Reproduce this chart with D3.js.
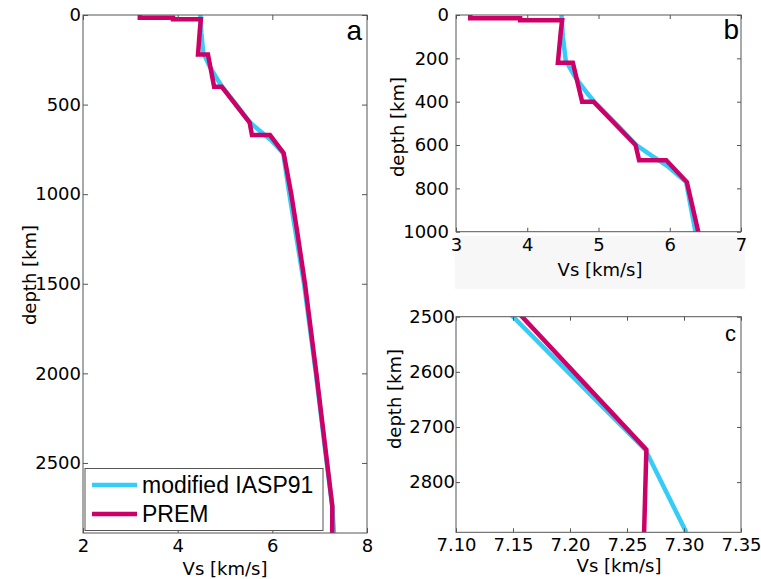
<!DOCTYPE html>
<html>
<head>
<meta charset="utf-8">
<script src="https://cdn.jsdelivr.net/npm/d3@7"></script>
<style>
  body { margin: 0; background: #fff; }
  svg { display: block; }
  .tick text { font-family: "DejaVu Sans", sans-serif; font-size: 18px; fill: #000; }
  .tick line { stroke: #555; }
  .axis-title { font-family: "DejaVu Sans", sans-serif; font-size: 18px; fill: #000; }
  .panel-letter { font-family: "Liberation Sans", Arial, sans-serif; fill: #000; }
  .legend-text { font-family: "Liberation Sans", Arial, sans-serif; font-size: 23px; fill: #000; }
</style>
</head>
<body>
<div id="chart"></div>
<script>
// PREM shear velocity profile (depth in km, Vs in km/s)
const premDepth = [0, 15, 15, 24.4, 24.4, 80, 220, 220, 400, 400, 600, 670, 670, 771, 871, 1000, 1200, 1500, 2000, 2500, 2741, 2891];
const premVs    = [3.20, 3.20, 3.90, 3.90, 4.49, 4.47, 4.43, 4.64, 4.77, 4.93, 5.52, 5.57, 5.95, 6.24, 6.31, 6.40, 6.52, 6.69, 6.93, 7.158, 7.267, 7.265];

// modified IASP91 shear velocity profile
const iaspDepth = [0, 100, 210, 285, 360, 400, 500, 600, 650, 700, 771, 1000, 1500, 2000, 2500, 2741, 2891];
const iaspVs    = [4.48, 4.50, 4.54, 4.67, 4.84, 4.94, 5.24, 5.53, 5.75, 5.98, 6.23, 6.36, 6.67, 6.92, 7.15, 7.266, 7.302];

const seriesNames = ['modified IASP91', 'PREM'];

const xTicksA = [2, 4, 6, 8];
const yTicksA = [0, 500, 1000, 1500, 2000, 2500];
const xTicksB = [3, 4, 5, 6, 7];
const yTicksB = [0, 200, 400, 600, 800, 1000];
const xTicksC = [7.10, 7.15, 7.20, 7.25, 7.30, 7.35];
const yTicksC = [2500, 2600, 2700, 2800];

const prem = premDepth.map((d, i) => ({depth: d, vs: premVs[i]}));
const iasp = iaspDepth.map((d, i) => ({depth: d, vs: iaspVs[i]}));

const colors = {iasp: '#35cdf7', prem: '#cc0066'};

const svg = d3.select('#chart').append('svg')
    .attr('width', 761)
    .attr('height', 579);

// faint background strip under panel b's x axis
svg.append('rect')
    .attr('x', 455).attr('y', 236).attr('width', 290).attr('height', 53)
    .attr('fill', '#f7f7f7');

function drawPanel(cfg) {
    const w = cfg.right - cfg.left;
    const h = cfg.bottom - cfg.top;
    const g = svg.append('g').attr('transform', `translate(${cfg.left},${cfg.top})`);

    const x = d3.scaleLinear().domain(cfg.xDomain).range([0, w]);
    const y = d3.scaleLinear().domain(cfg.yDomain).range([0, h]);

    const clipId = 'clip-' + cfg.name;
    g.append('clipPath').attr('id', clipId)
        .append('rect').attr('width', w).attr('height', h);

    const line = d3.line().x(d => x(d.vs)).y(d => y(d.depth));
    const lines = g.append('g').attr('clip-path', `url(#${clipId})`);
    lines.append('path').datum(iasp)
        .attr('d', line).attr('fill', 'none')
        .attr('stroke', colors.iasp).attr('stroke-width', 4.5);
    lines.append('path').datum(prem)
        .attr('d', line).attr('fill', 'none')
        .attr('stroke', colors.prem).attr('stroke-width', 4.5);

    const tl = cfg.tickLen;
    const xAxis = d3.axisBottom(x).tickValues(cfg.xTicks).tickFormat(cfg.xFormat)
        .tickSizeInner(-tl).tickSizeOuter(0).tickPadding(cfg.xPad);
    const yAxis = d3.axisLeft(y).tickValues(cfg.yTicks).tickFormat(d3.format('d'))
        .tickSizeInner(-tl).tickSizeOuter(0).tickPadding(cfg.yPad);

    g.append('g').attr('transform', `translate(0,${h})`).call(xAxis)
        .call(a => a.select('.domain').remove());
    g.append('g').call(yAxis)
        .call(a => a.select('.domain').remove());
    g.append('g').call(d3.axisTop(x).tickValues(cfg.xTicks).tickFormat('').tickSizeInner(-tl).tickSizeOuter(0))
        .call(a => a.select('.domain').remove());
    g.append('g').attr('transform', `translate(${w},0)`)
        .call(d3.axisRight(y).tickValues(cfg.yTicks).tickFormat('').tickSizeInner(-tl).tickSizeOuter(0))
        .call(a => a.select('.domain').remove());

    g.append('rect').attr('width', w).attr('height', h)
        .attr('fill', 'none').attr('stroke', '#555').attr('stroke-width', 1);

    svg.append('text').attr('class', 'axis-title')
        .attr('x', cfg.xLabelX).attr('y', cfg.xLabelY)
        .attr('text-anchor', 'middle').text('Vs [km/s]');
    svg.append('text').attr('class', 'axis-title')
        .attr('transform', `translate(${cfg.yLabelX},${cfg.yLabelY}) rotate(-90)`)
        .attr('text-anchor', 'middle').text('depth [km]');

    svg.append('text').attr('class', 'panel-letter')
        .attr('x', cfg.letterX).attr('y', cfg.letterY)
        .attr('text-anchor', 'end').style('font-size', cfg.letterSize + 'px')
        .text(cfg.name);

    return g;
}

drawPanel({
    name: 'a', left: 83, right: 367, top: 15, bottom: 533,
    xDomain: [2, 8], yDomain: [0, 2891], xTicks: xTicksA, yTicks: yTicksA,
    xFormat: d3.format('d'), tickLen: 5, xPad: 6, yPad: 2,
    xLabelX: 225, xLabelY: 575, yLabelX: 36, yLabelY: 275,
    letterX: 362, letterY: 40, letterSize: 28
});

drawPanel({
    name: 'b', left: 456, right: 741, top: 15, bottom: 231.7,
    xDomain: [3, 7], yDomain: [0, 1000], xTicks: xTicksB, yTicks: yTicksB,
    xFormat: d3.format('d'), tickLen: 4, xPad: 7, yPad: 7,
    xLabelX: 600, xLabelY: 276, yLabelX: 404, yLabelY: 127,
    letterX: 739, letterY: 39, letterSize: 28
});

drawPanel({
    name: 'c', left: 456, right: 741, top: 316.7, bottom: 532.3,
    xDomain: [7.10, 7.35], yDomain: [2500, 2891], xTicks: xTicksC, yTicks: yTicksC,
    xFormat: d3.format('.2f'), tickLen: 4, xPad: 6, yPad: 1,
    xLabelX: 619, xLabelY: 572, yLabelX: 401, yLabelY: 399,
    letterX: 736, letterY: 341, letterSize: 22
});

// legend in panel a
const legend = svg.append('g');
legend.append('rect')
    .attr('x', 85).attr('y', 468.5).attr('width', 238).attr('height', 62)
    .attr('fill', '#fff').attr('stroke', '#555').attr('stroke-width', 1);
const legendRows = [
    {name: seriesNames[0], color: colors.iasp, y: 485},
    {name: seriesNames[1], color: colors.prem, y: 514}
];
legendRows.forEach(r => {
    legend.append('line')
        .attr('x1', 92).attr('x2', 137).attr('y1', r.y).attr('y2', r.y)
        .attr('stroke', r.color).attr('stroke-width', 4.5);
    legend.append('text').attr('class', 'legend-text')
        .attr('x', 142).attr('y', r.y + 8).text(r.name);
});
</script>
</body>
</html>
